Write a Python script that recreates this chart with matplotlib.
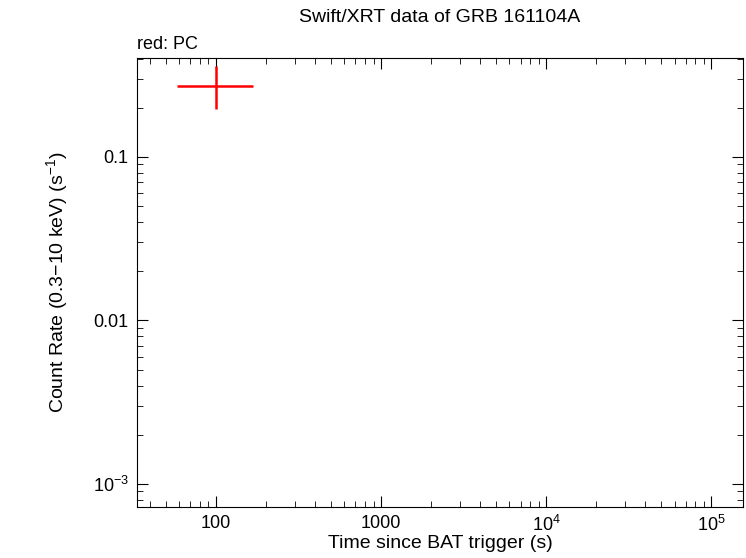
import matplotlib
matplotlib.use("Agg")
import matplotlib.pyplot as plt
plt.rcParams['font.family'] = ['Liberation Sans', 'DejaVu Sans']
plt.rcParams['mathtext.fontset'] = 'custom'
plt.rcParams['mathtext.rm'] = 'Liberation Sans'
plt.rcParams['mathtext.it'] = 'Liberation Sans'

t = [100.0]
t_lo = [58.0]
t_hi = [167.0]
rate = [0.272]
rate_lo = [0.197]
rate_hi = [0.36]

fig = plt.figure(figsize=(7.46, 5.58), dpi=100)
ax = fig.add_axes([137/746, 1-507/558, (743-137)/746, (507-58)/558])
ax.set_xscale('log'); ax.set_yscale('log')
ax.errorbar(t, rate,
            xerr=[[a-b for a, b in zip(t, t_lo)], [b-a for a, b in zip(t, t_hi)]],
            yerr=[[a-b for a, b in zip(rate, rate_lo)], [b-a for a, b in zip(rate, rate_hi)]],
            fmt='none', ecolor='red', elinewidth=1.8, capsize=0)
ax.set_xlim(33.2, 1.56e5)
ax.set_ylim(7.23e-4, 0.403)
ax.set_xticks([100, 1000, 1e4, 1e5])
ax.set_xticklabels(['100', '1000', r'$10^4$', r'$10^5$'])
ax.set_yticks([1e-3, 0.01, 0.1])
ax.set_yticklabels([r'$10^{-3}$', '0.01', '0.1'])
ax.tick_params(which='both', direction='in', top=True, right=True, labelsize=13, pad=6)
ax.tick_params(which='major', length=8)
ax.tick_params(which='minor', length=4)
ax.set_xlabel('Time since BAT trigger (s)', fontsize=14, labelpad=0)
ax.set_ylabel(r'Count Rate (0.3$-$10 keV) (s$^{-1}$)', fontsize=14, labelpad=16)
ax.set_title('Swift/XRT data of GRB 161104A', fontsize=14, pad=26)
ax.text(0.0, 1.012, 'red: PC', transform=ax.transAxes, fontsize=13, ha='left', va='bottom')
fig.savefig('out.png', dpi=100)
